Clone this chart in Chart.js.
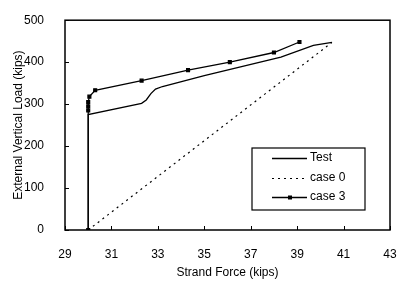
<!DOCTYPE html>
<html>
<head>
<meta charset="utf-8">
<script src="https://cdn.jsdelivr.net/npm/chart.js@4"></script>
<style>
  html, body { margin: 0; padding: 0; background: #fff; }
  #wrap { width: 397px; height: 287px; }
</style>
</head>
<body>
<div id="wrap"><canvas id="strandChart" width="397" height="287"></canvas></div>
<script>
const testX = [30, 30, 32.3, 32.5, 32.7, 32.9, 33.2, 35, 38.3, 39.7, 40.5];
const testY = [0, 275, 302, 310, 325, 336, 342, 368, 412, 440, 447];

const case0X = [30, 40.5];
const case0Y = [0, 447];

const case3X = [30, 30, 30, 30, 30.05, 30.3, 32.3, 34.3, 36.1, 38, 39.1];
const case3Y = [0, 285, 295, 305, 318, 333, 356, 381, 400, 423, 448];

const xTicks = [29, 31, 33, 35, 37, 39, 41, 43];
const yTicks = [0, 100, 200, 300, 400, 500];

const legendLabels = ["Test", "case 0", "case 3"];

function pts(xs, ys) {
  return xs.map((x, i) => ({ x: x, y: ys[i] }));
}

const font = "Liberation Sans";

// frame, inward ticks and the boxed legend
const framePlugin = {
  id: "frame",
  afterDraw(chart) {
    const ctx = chart.ctx;
    const a = chart.chartArea;
    const xs = chart.scales.x, ys = chart.scales.y;
    ctx.save();
    ctx.strokeStyle = "#000";
    ctx.lineWidth = 1.5;
    ctx.strokeRect(a.left, a.top, a.right - a.left, a.bottom - a.top);
    ctx.lineWidth = 1;
    ctx.beginPath();
    xTicks.forEach(v => {
      const px = Math.round(xs.getPixelForValue(v)) + 0.5;
      ctx.moveTo(px, a.bottom);
      ctx.lineTo(px, a.bottom - 4);
    });
    yTicks.forEach(v => {
      const py = Math.round(ys.getPixelForValue(v)) + 0.5;
      ctx.moveTo(a.left, py);
      ctx.lineTo(a.left + 4, py);
    });
    ctx.stroke();

    // legend
    const bx = 252, by = 148, bw = 113, bh = 62;
    ctx.fillStyle = "#fff";
    ctx.fillRect(bx, by, bw, bh);
    ctx.lineWidth = 1.2;
    ctx.strokeRect(bx, by, bw, bh);
    ctx.font = "12px " + font;
    ctx.textBaseline = "middle";
    ctx.fillStyle = "#000";
    const rows = [158, 178, 197];
    chart.data.datasets.forEach((ds, i) => {
      const y = rows[i] + 0.5;
      ctx.beginPath();
      ctx.setLineDash(ds.borderDash || []);
      ctx.lineWidth = ds.borderWidth;
      ctx.moveTo(bx + 20, y);
      ctx.lineTo(bx + 55, y);
      ctx.stroke();
      ctx.setLineDash([]);
      if (ds.pointRadius > 0) {
        ctx.fillRect(bx + 36, y - 2, 4, 4);
      }
      ctx.fillText(legendLabels[i], bx + 58, rows[i]);
    });
    ctx.restore();
  }
};

new Chart(document.getElementById("strandChart"), {
  type: "scatter",
  data: {
    datasets: [{
      label: legendLabels[0],
      data: pts(testX, testY),
      showLine: true,
      borderColor: "#000",
      borderWidth: 1.3,
      pointRadius: 0,
      tension: 0
    }, {
      label: legendLabels[1],
      data: pts(case0X, case0Y),
      showLine: true,
      borderColor: "#000",
      borderWidth: 1.2,
      borderDash: [2, 4],
      pointRadius: 0
    }, {
      label: legendLabels[2],
      data: pts(case3X, case3Y),
      showLine: true,
      borderColor: "#000",
      borderWidth: 1.3,
      pointStyle: "rect",
      pointRadius: 2,
      pointBackgroundColor: "#000",
      pointBorderColor: "#000"
    }]
  },
  options: {
    responsive: false,
    animation: false,
    layout: { padding: { top: 14, right: 0, left: 0, bottom: 0 } },
    plugins: {
      legend: { display: false },
      tooltip: { enabled: false }
    },
    scales: {
      x: {
        type: "linear",
        min: 29,
        max: 43,
        afterBuildTicks: s => { s.ticks = xTicks.map(v => ({ value: v })); },
        afterFit: s => { s.height = 57; s.paddingRight = 7; },
        grid: { display: false },
        border: { display: false },
        ticks: { color: "#000", padding: 9, font: { family: font, size: 12 } },
        title: {
          display: true,
          text: "Strand Force (kips)",
          color: "#000",
          padding: { top: 0, bottom: 7 },
          font: { family: font, size: 12 }
        }
      },
      y: {
        min: 0,
        max: 500,
        afterBuildTicks: s => { s.ticks = yTicks.map(v => ({ value: v })); },
        afterFit: s => { s.width = 65; },
        grid: { display: false },
        border: { display: false },
        ticks: { color: "#000", padding: 13, font: { family: font, size: 12 } },
        title: {
          display: true,
          text: "External Vertical Load (kips)",
          color: "#000",
          padding: { top: 11, bottom: 0 },
          font: { family: font, size: 12 }
        }
      }
    }
  },
  plugins: [framePlugin]
});
</script>
</body>
</html>
